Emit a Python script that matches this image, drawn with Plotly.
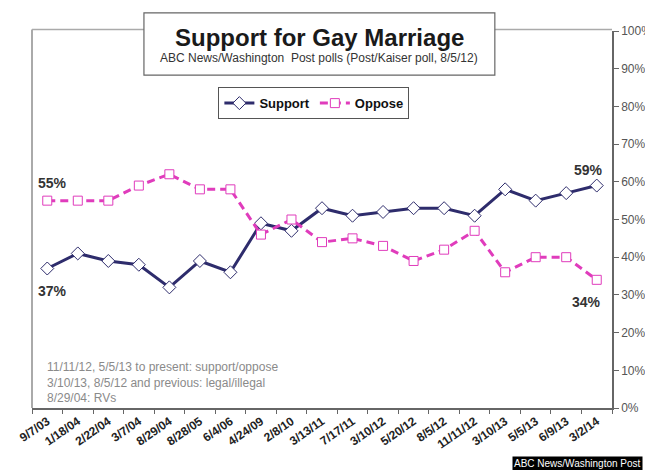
import plotly.graph_objects as go

dates = ["9/7/03", "1/18/04", "2/22/04", "3/7/04", "8/29/04", "8/28/05", "6/4/06",
         "4/24/09", "2/8/10", "3/13/11", "7/17/11", "3/10/12", "5/20/12", "8/5/12",
         "11/11/12", "3/10/13", "5/5/13", "6/9/13", "3/2/14"]
support = [37, 41, 39, 38, 32, 39, 36, 49, 47, 53, 51, 52, 53, 53, 51, 58, 55, 57, 59]
oppose = [55, 55, 55, 59, 62, 58, 58, 46, 50, 44, 45, 43, 39, 42, 47, 36, 40, 40, 34]
y_ticks = list(range(0, 101, 10))

title = "Support for Gay Marriage"
subtitle = "ABC News/Washington  Post polls (Post/Kaiser poll, 8/5/12)"
notes = ["11/11/12, 5/5/13 to present: support/oppose",
         "3/10/13, 8/5/12 and previous: legal/illegal",
         "8/29/04: RVs"]
credit = "ABC News/Washington Post"

FONT = "Liberation Sans, Arial, sans-serif"
NAVY = "#2e2c6c"
PINK = "#e03cbc"

fig = go.Figure()
fig.add_trace(go.Scatter(
    x=dates, y=support, name="Support", mode="lines+markers",
    line=dict(color=NAVY, width=3),
    marker=dict(symbol="diamond", size=10, color="white",
                line=dict(color=NAVY, width=1)),
))
fig.add_trace(go.Scatter(
    x=dates, y=oppose, name="Oppose", mode="lines+markers",
    line=dict(color=PINK, width=3, dash="8px,5px"),
    marker=dict(symbol="square", size=9, color="white",
                line=dict(color=PINK, width=1)),
))

n = len(dates)
annotations = [
    dict(x=dates[0], y=oppose[0], text=f"<b>{oppose[0]}%</b>", showarrow=False,
         xanchor="left", xshift=-11, yshift=18),
    dict(x=dates[0], y=support[0], text=f"<b>{support[0]}%</b>", showarrow=False,
         xanchor="left", xshift=-11, yshift=-22),
    dict(x=dates[-1], y=support[-1], text=f"<b>{support[-1]}%</b>", showarrow=False,
         xanchor="right", xshift=8, yshift=16),
    dict(x=dates[-1], y=oppose[-1], text=f"<b>{oppose[-1]}%</b>", showarrow=False,
         xanchor="right", xshift=6, yshift=-22),
]
for a in annotations:
    a.update(xref="x", yref="y", font=dict(family=FONT, size=14, color="#333"))

annotations += [
    dict(xref="paper", yref="paper", x=0.4955, y=0.984, text=f"<b>{title}</b>",
         showarrow=False, xanchor="center", yanchor="middle",
         font=dict(family=FONT, size=24, color="#1a1a1a")),
    dict(xref="paper", yref="paper", x=0.4955, y=0.928, text=subtitle,
         showarrow=False, xanchor="center", yanchor="middle",
         font=dict(family=FONT, size=12, color="#333")),
    dict(xref="paper", yref="paper", x=0.022, y=0.133, text="<br>".join(notes),
         showarrow=False, xanchor="left", yanchor="top", align="left",
         font=dict(family=FONT, size=12, color="#8a8a8a")),
    dict(xref="paper", yref="paper", x=1.054, y=-0.127, text=credit,
         showarrow=False, xanchor="right", yanchor="top", bgcolor="black",
         borderpad=1, font=dict(family=FONT, size=10, color="white")),
]

shapes = [
    dict(type="line", xref="paper", yref="paper", x0=0, x1=1, y0=1.004, y1=1.004,
         line=dict(color="#aaaaaa", width=1.5), layer="below"),
    dict(type="line", xref="paper", yref="paper", x0=0, x1=0, y0=0, y1=1.004,
         line=dict(color="#aaaaaa", width=2), layer="below"),
    dict(type="rect", xref="paper", yref="paper", x0=0.193, x1=0.798, y0=0.883, y1=1.048,
         line=dict(color="#666", width=1.2), fillcolor="white", layer="above"),
]

fig.update_layout(
    width=645, height=462,
    margin=dict(l=24, r=41, t=23, b=62),
    paper_bgcolor="white", plot_bgcolor="white",
    font=dict(family=FONT),
    showlegend=True,
    legend=dict(orientation="h", x=0.486, xanchor="center", y=0.851, yanchor="top",
                bordercolor="#555", borderwidth=1, bgcolor="white",
                font=dict(family=FONT, size=13, color="#111", weight="bold"),
                itemwidth=30, tracegroupgap=0),
    xaxis=dict(type="category", categoryorder="array", categoryarray=dates,
               range=[-0.5, n - 0.5], tickson="boundaries", ticks="outside",
               ticklen=4, tickcolor="#666", showline=True, linecolor="#666",
               linewidth=1.5, showgrid=False, zeroline=False, tickangle=-35,
               automargin=False,
               tickfont=dict(family=FONT, size=12, color="#222", weight="bold")),
    yaxis=dict(range=[0, 100], tickvals=y_ticks, ticktext=[f"{v}%" for v in y_ticks],
               side="right", ticks="outside", ticklen=5, tickcolor="#666",
               showline=True, linecolor="#666", linewidth=1.5, showgrid=False,
               zeroline=False, automargin=False,
               tickfont=dict(family=FONT, size=12, color="#555"),
               fixedrange=True),
    xaxis2=dict(overlaying="x", anchor="y", range=[-0.5, n - 0.5],
                tickvals=[i - 0.5 for i in range(n + 1)], ticks="inside", ticklen=4,
                tickcolor="#666", showticklabels=False, showline=False,
                showgrid=False, zeroline=False, side="bottom", automargin=False),
    yaxis2=dict(overlaying="y", anchor="x", side="right", range=[0, 100],
                tickvals=y_ticks, ticks="inside", ticklen=4, tickcolor="#666",
                showticklabels=False, showline=False, showgrid=False, zeroline=False,
                automargin=False),
    annotations=annotations,
    shapes=shapes,
)

fig.write_html("out.html")
